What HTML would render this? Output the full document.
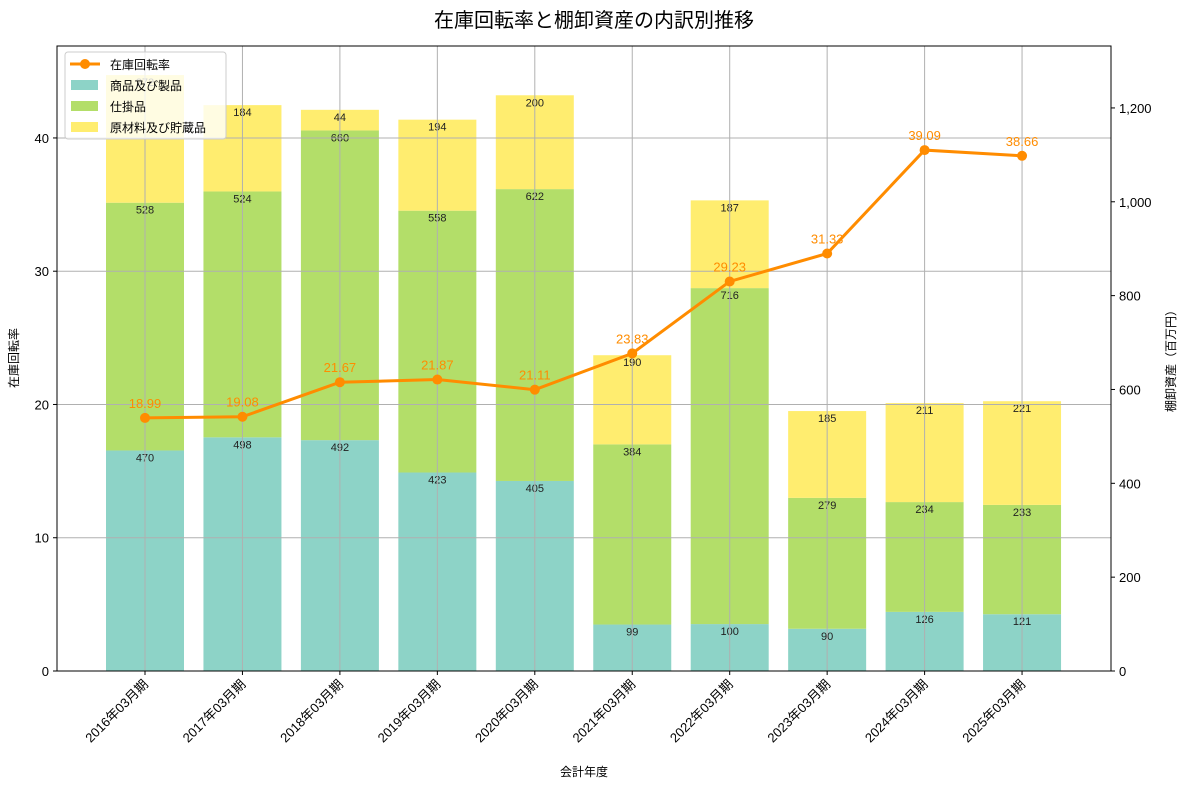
<!DOCTYPE html>
<html><head><meta charset="utf-8"><style>
body{margin:0;background:#fff;font-family:"Liberation Sans","Noto Sans CJK JP",sans-serif;}
svg text{font-family:"Liberation Sans","Noto Sans CJK JP",sans-serif;}
</style></head><body>
<svg id="chart" width="1189" height="789" xmlns="http://www.w3.org/2000/svg"></svg>
<script>
const categories=["2016年03月期","2017年03月期","2018年03月期","2019年03月期","2020年03月期","2021年03月期","2022年03月期","2023年03月期","2024年03月期","2025年03月期"];
const goods=[470,498,492,423,405,99,100,90,126,121];
const wip=[528,524,660,558,622,384,716,279,234,233];
const raw=[272,184,44,194,200,190,187,185,211,221];
const turnover=[18.99,19.08,21.67,21.87,21.11,23.83,29.23,31.33,39.09,38.66];
const leftTicks=[0,10,20,30,40];
const rightTicks=[0,200,400,600,800,1000,1200];

const svg=document.getElementById('chart');
const NS='http://www.w3.org/2000/svg';
const L=57,R=1111,T=46,B=671;
const yL=v=>B-v*(B-T)/46.9;
const yR=v=>B-v*(B-T)/1332;
const step=(R-L)/categories.length*0.925;
const x0=145, dx=97.45;
const xC=i=>x0+i*dx;
const bw=78;
function el(tag,attrs,parent){const e=document.createElementNS(NS,tag);for(const k in attrs)e.setAttribute(k,attrs[k]);(parent||svg).appendChild(e);return e;}
function txt(s,attrs,parent){const e=el('text',attrs,parent);e.textContent=s;return e;}

const title=txt('在庫回転率と棚卸資産の内訳別推移',{x:594,y:27,'text-anchor':'middle','font-size':20,fill:'#000'});



// bars
const series=[[goods,'#8dd3c7','goods'],[wip,'#b3de69','wip'],[raw,'#ffed6f','raw']];
const barG=el('g',{});


categories.forEach((c,i)=>{
  let base=0;
  series.forEach(([arr,col,nm])=>{
    const v=arr[i];
    const r=el('rect',{x:xC(i)-bw/2,y:yR(base+v),width:bw,height:yR(base)-yR(base+v),fill:col},barG);
    
    
    const t=txt(String(v),{x:xC(i),y:yR(base+v)+11,'text-anchor':'middle','font-size':11,fill:'#222'},barG);
    
    
    base+=v;
  });
});

// grid
const grid=el('g',{stroke:'#b0b0b0','stroke-width':1});


leftTicks.forEach(v=>{el('line',{x1:L,x2:R,y1:yL(v),y2:yL(v)},grid);});
categories.forEach((c,i)=>{el('line',{x1:xC(i),x2:xC(i),y1:T,y2:B},grid);});

// line
const pts=turnover.map((v,i)=>xC(i)+','+yL(v)).join(' ');
const line=el('polyline',{points:pts,fill:'none',stroke:'#ff8c00','stroke-width':3});


turnover.forEach((v,i)=>{
  const c=el('circle',{cx:xC(i),cy:yL(v),r:5,fill:'#ff8c00'});
  
  
  const t=txt(v.toFixed(2),{x:xC(i),y:yL(v)-10,'text-anchor':'middle','font-size':13,fill:'#ff8c00'});
  
  
});

// frame
const fr=el('rect',{x:L,y:T,width:R-L,height:B-T,fill:'none',stroke:'#000','stroke-width':1});



// left axis
leftTicks.forEach(v=>{
  el('line',{x1:L-4,x2:L,y1:yL(v),y2:yL(v),stroke:'#000'});
  const t=txt(String(v),{x:L-8,y:yL(v)+5,'text-anchor':'end','font-size':13});
  
  
});
const yt=txt('在庫回転率',{x:18,y:358,'text-anchor':'middle','font-size':12,transform:'rotate(-90 18 358)'});


// right axis
rightTicks.forEach(v=>{
  el('line',{x1:R,x2:R+4,y1:yR(v),y2:yR(v),stroke:'#000'});
  const t=txt(v.toLocaleString('en-US'),{x:R+8,y:yR(v)+5,'font-size':13});
  
  
});
const rt=txt('棚卸資産（百万円）',{x:1175,y:358,'text-anchor':'middle','font-size':12,transform:'rotate(-90 1175 358)'});


// x axis
categories.forEach((c,i)=>{
  el('line',{x1:xC(i),x2:xC(i),y1:B,y2:B+4,stroke:'#000'});
  const t=txt(c,{x:xC(i)+4,y:B+14,'text-anchor':'end','font-size':13,transform:`rotate(-45 ${xC(i)+4} ${B+14})`});
  
  
});
const xt=txt('会計年度',{x:584,y:776,'text-anchor':'middle','font-size':12});



// legend
const lg=el('g',{});


el('rect',{x:65,y:52,width:161,height:87,rx:3,fill:'#fff','fill-opacity':0.8,stroke:'#ccc'},lg);
el('line',{x1:70,x2:100,y1:64,y2:64,stroke:'#ff8c00','stroke-width':3},lg);
el('circle',{cx:85,cy:64,r:5,fill:'#ff8c00'},lg);
const items=[['在庫回転率',null],['商品及び製品','#8dd3c7'],['仕掛品','#b3de69'],['原材料及び貯蔵品','#ffed6f']];
items.forEach(([n,c],k)=>{
  const y=64+k*21;
  if(c) el('rect',{x:71,y:y-5,width:27,height:10,fill:c},lg);
  const t=txt(n,{x:110,y:y+5,'font-size':12},lg);
  
  
});
</script>
</body></html>
